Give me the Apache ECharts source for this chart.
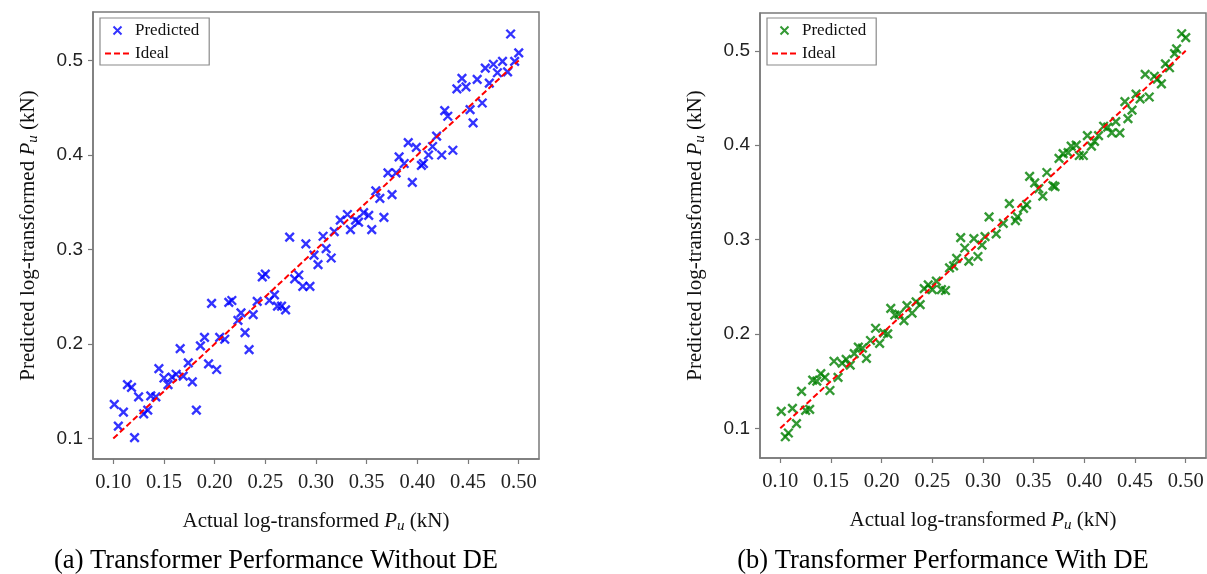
<!DOCTYPE html>
<html>
<head>
<meta charset="utf-8">
<script src="https://cdn.jsdelivr.net/npm/echarts@6/dist/echarts.min.js"></script>
<style>
  html, body { margin: 0; padding: 0; background: #ffffff; }
  #chart { width: 1207px; height: 574px; }
</style>
</head>
<body>
<div id="chart"></div>
<script>
// Panel (a): actual vs predicted log-transformed Pu, Transformer without DE
const actualA = [0.101, 0.110, 0.105, 0.121, 0.114, 0.118, 0.125, 0.130, 0.134, 0.137,
  0.142, 0.145, 0.150, 0.154, 0.158, 0.162, 0.166, 0.169, 0.174, 0.178,
  0.182, 0.186, 0.190, 0.194, 0.197, 0.202, 0.205, 0.210, 0.214, 0.217,
  0.223, 0.226, 0.230, 0.234, 0.238, 0.242, 0.247, 0.250, 0.254, 0.259,
  0.262, 0.266, 0.270, 0.274, 0.279, 0.283, 0.287, 0.290, 0.294, 0.298,
  0.302, 0.307, 0.310, 0.315, 0.318, 0.324, 0.331, 0.334, 0.339, 0.342,
  0.347, 0.352, 0.355, 0.359, 0.363, 0.367, 0.371, 0.375, 0.379, 0.382,
  0.387, 0.391, 0.395, 0.399, 0.404, 0.406, 0.411, 0.415, 0.419, 0.424,
  0.427, 0.430, 0.435, 0.439, 0.444, 0.448, 0.452, 0.455, 0.459, 0.464,
  0.467, 0.471, 0.475, 0.479, 0.484, 0.489, 0.492, 0.496, 0.500];
const predictedA = [0.136, 0.128, 0.113, 0.101, 0.157, 0.154, 0.144, 0.126, 0.130, 0.145,
  0.144, 0.174, 0.164, 0.157, 0.165, 0.168, 0.195, 0.166, 0.180, 0.160,
  0.130, 0.198, 0.207, 0.179, 0.243, 0.173, 0.207, 0.205, 0.244, 0.246,
  0.225, 0.233, 0.212, 0.194, 0.231, 0.245, 0.271, 0.274, 0.246, 0.252,
  0.240, 0.240, 0.236, 0.313, 0.269, 0.273, 0.261, 0.306, 0.261, 0.294,
  0.284, 0.314, 0.301, 0.291, 0.319, 0.331, 0.337, 0.321, 0.331, 0.329,
  0.339, 0.336, 0.321, 0.362, 0.354, 0.334, 0.381, 0.358, 0.381, 0.398,
  0.391, 0.413, 0.371, 0.408, 0.389, 0.391, 0.400, 0.409, 0.420, 0.400,
  0.447, 0.441, 0.405, 0.470, 0.481, 0.472, 0.448, 0.434, 0.480, 0.455,
  0.492, 0.476, 0.496, 0.487, 0.499, 0.488, 0.528, 0.499, 0.508];

// Panel (b): actual vs predicted log-transformed Pu, Transformer with DE
const actualB = [0.101, 0.105, 0.108, 0.112, 0.116, 0.121, 0.125, 0.129, 0.132, 0.136,
  0.140, 0.144, 0.149, 0.153, 0.157, 0.161, 0.165, 0.169, 0.173, 0.177,
  0.181, 0.185, 0.189, 0.194, 0.198, 0.202, 0.206, 0.209, 0.213, 0.217,
  0.222, 0.225, 0.230, 0.234, 0.238, 0.242, 0.246, 0.250, 0.254, 0.259,
  0.263, 0.267, 0.271, 0.274, 0.278, 0.282, 0.286, 0.291, 0.295, 0.299,
  0.302, 0.306, 0.313, 0.320, 0.326, 0.332, 0.334, 0.340, 0.343, 0.346,
  0.351, 0.355, 0.359, 0.363, 0.369, 0.371, 0.375, 0.379, 0.384, 0.387,
  0.392, 0.395, 0.399, 0.403, 0.407, 0.410, 0.414, 0.419, 0.423, 0.427,
  0.431, 0.435, 0.440, 0.443, 0.447, 0.451, 0.455, 0.460, 0.464, 0.469,
  0.472, 0.476, 0.480, 0.484, 0.489, 0.491, 0.496, 0.500];
const predictedB = [0.118, 0.091, 0.095, 0.121, 0.105, 0.139, 0.119, 0.120, 0.151, 0.150,
  0.158, 0.154, 0.140, 0.171, 0.154, 0.169, 0.173, 0.167, 0.179, 0.186,
  0.185, 0.174, 0.193, 0.206, 0.190, 0.201, 0.200, 0.227, 0.220, 0.221,
  0.214, 0.230, 0.222, 0.234, 0.231, 0.248, 0.252, 0.247, 0.256, 0.247,
  0.246, 0.270, 0.272, 0.280, 0.302, 0.291, 0.277, 0.301, 0.282, 0.294,
  0.303, 0.324, 0.306, 0.317, 0.338, 0.320, 0.324, 0.333, 0.337, 0.367,
  0.360, 0.354, 0.346, 0.371, 0.357, 0.356, 0.386, 0.391, 0.392, 0.399,
  0.400, 0.389, 0.389, 0.410, 0.399, 0.404, 0.410, 0.420, 0.419, 0.413,
  0.425, 0.413, 0.446, 0.428, 0.437, 0.454, 0.449, 0.475, 0.451, 0.473,
  0.470, 0.465, 0.486, 0.482, 0.497, 0.502, 0.518, 0.514];

// y = x reference line endpoints
const idealRange = [0.1, 0.5];

// Tick labels
const xTicks = [0.10, 0.15, 0.20, 0.25, 0.30, 0.35, 0.40, 0.45, 0.50];
const yTicks = [0.1, 0.2, 0.3, 0.4, 0.5];

const captions = ['(a) Transformer Performance Without DE', '(b) Transformer Performance With DE'];

const SERIF = '"Liberation Serif", "Times New Roman", serif';
const SANS = '"Liberation Sans", Arial, sans-serif';
const FRAME = '#7a7a7a';
const CROSS = 'path://M0,0L10,10M10,0L0,10';

const zip = (xs, ys) => xs.map((x, i) => [x, ys[i]]);

const nameRich = {
  t: { fontFamily: SERIF, fontSize: 21, color: '#111' },
  i: { fontFamily: SERIF, fontSize: 21, fontStyle: 'italic', color: '#111' },
  s: { fontFamily: SERIF, fontSize: 15, fontStyle: 'italic', color: '#111', padding: [10, 0, 0, 0] }
};

function xAxisFor(gridIndex) {
  return {
    type: 'value', gridIndex, min: 0.08, max: 0.52,
    name: '{t|Actual log-transformed }{i|P}{s|u}{t| (kN)}',
    nameLocation: 'middle', nameGap: 50,
    nameTextStyle: { rich: nameRich },
    splitLine: { show: false },
    axisLine: { show: true, onZero: false, lineStyle: { color: FRAME, width: 1.5 } },
    axisTick: { show: true, inside: false, length: 5, customValues: xTicks, lineStyle: { color: FRAME, width: 1.2 } },
    axisLabel: {
      customValues: xTicks, margin: 13, color: '#222', fontFamily: SERIF, fontSize: 20.5,
      formatter: v => v.toFixed(2)
    }
  };
}

function yAxisFor(gridIndex, min, max) {
  return {
    type: 'value', gridIndex, min, max,
    name: '{t|Predicted log-transformed }{i|P}{s|u}{t| (kN)}',
    nameLocation: 'middle', nameGap: 52, nameRotate: 90,
    nameTextStyle: { rich: nameRich },
    splitLine: { show: false },
    axisLine: { show: true, onZero: false, lineStyle: { color: FRAME, width: 1.5 } },
    axisTick: { show: true, inside: false, length: 5, customValues: yTicks, lineStyle: { color: FRAME, width: 1.2 } },
    axisLabel: {
      customValues: yTicks, margin: 10, color: '#222', fontFamily: SANS, fontSize: 19,
      formatter: v => v.toFixed(1)
    }
  };
}

function legendFor(left, names) {
  return {
    left, top: 18, orient: 'vertical',
    data: names,
    selectedMode: false,
    itemWidth: 25, itemHeight: 8, itemGap: 6,
    padding: [4, 10, 3, 4],
    borderColor: '#8a8a8a', borderWidth: 1.2, borderRadius: 0,
    backgroundColor: '#ffffff',
    textStyle: { fontFamily: SERIF, fontSize: 17, color: '#111' },
    formatter: name => name.replace(' (with DE)', '')
  };
}

function scatterSeries(name, idx, xs, ys, color) {
  return {
    type: 'scatter', name, xAxisIndex: idx, yAxisIndex: idx,
    data: zip(xs, ys),
    symbol: CROSS, symbolSize: 8.5,
    itemStyle: { color: 'rgba(0,0,0,0)', borderColor: color, borderWidth: 2.4 },
    z: 3
  };
}

function idealSeries(name, idx) {
  return {
    type: 'line', name, xAxisIndex: idx, yAxisIndex: idx,
    data: idealRange.map(v => [v, v]),
    symbol: 'none',
    itemStyle: { color: 'rgba(0,0,0,0)', borderWidth: 0 },
    lineStyle: { color: '#ff0000', width: 2, type: [6, 3] },
    z: 4
  };
}

const chart = echarts.init(document.getElementById('chart'));
chart.setOption({
  animation: false,
  backgroundColor: '#ffffff',
  grid: [
    { left: 93, top: 12, width: 446, height: 447, show: true, borderColor: FRAME, borderWidth: 1.5, backgroundColor: 'transparent' },
    { left: 760, top: 13, width: 446, height: 445, show: true, borderColor: FRAME, borderWidth: 1.5, backgroundColor: 'transparent' }
  ],
  xAxis: [xAxisFor(0), xAxisFor(1)],
  yAxis: [yAxisFor(0, 0.0783, 0.5513), yAxisFor(1, 0.0685, 0.540)],
  legend: [
    legendFor(100, ['Predicted', 'Ideal']),
    legendFor(767, ['Predicted (with DE)', 'Ideal (with DE)'])
  ],
  series: [
    scatterSeries('Predicted', 0, actualA, predictedA, '#0000ff'),
    idealSeries('Ideal', 0),
    scatterSeries('Predicted (with DE)', 1, actualB, predictedB, '#008000'),
    idealSeries('Ideal (with DE)', 1)
  ],
  graphic: [
    { type: 'text', x: 276, y: 561, style: { text: captions[0], font: '26.5px ' + SERIF, fill: '#000', align: 'center', verticalAlign: 'middle' } },
    { type: 'text', x: 943, y: 561, style: { text: captions[1], font: '26.5px ' + SERIF, fill: '#000', align: 'center', verticalAlign: 'middle' } }
  ]
});
</script>
</body>
</html>
